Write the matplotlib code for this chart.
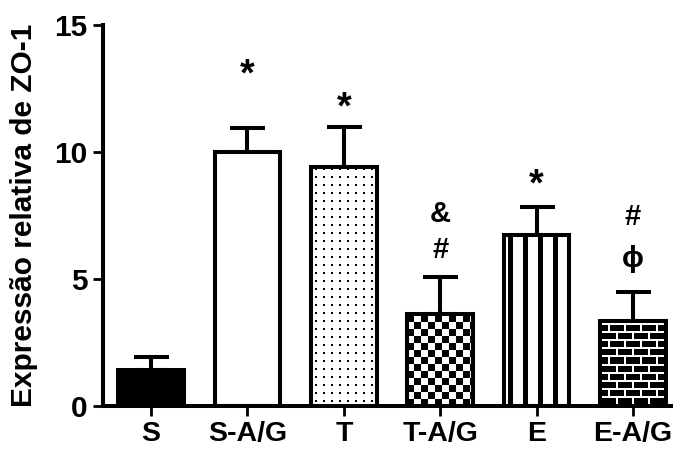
import matplotlib
matplotlib.use('Agg')
import matplotlib.pyplot as plt
import numpy as np

plt.rcParams['font.family'] = ['Liberation Sans', 'DejaVu Sans']
plt.rcParams['font.weight'] = 'bold'

# ZO-1 relative expression, mean and SEM per group
groups = ['S', 'S-A/G', 'T', 'T-A/G', 'E', 'E-A/G']
means = [1.4, 10.0, 9.4, 3.62, 6.75, 3.35]
sems = [0.54, 0.96, 1.6, 1.47, 1.07, 1.14]
fills = ['solid', 'white', 'dots', 'checker', 'stripes', 'bricks']

# significance marks: (group index, symbol, y)
marks = [(1, '*', 13.0), (2, '*', 11.7), (3, '&', 7.55), (3, '#', 6.15),
         (4, '*', 8.7), (5, '#', 7.45), (5, '\u03d5', 5.8)]


def pattern(kind, w, h):
    # pixel-level fill, 1 = white, 0 = black
    yy, xx = np.mgrid[0:h, 0:w]
    if kind == 'dots':
        return 1.0 - (((xx % 8) >= 4) & ((xx % 8) < 6) & ((yy % 8) >= 4) & ((yy % 8) < 6))
    if kind == 'checker':
        return ((xx // 7 + yy // 7) % 2).astype(float)
    if kind == 'stripes':
        return (((xx - 4) % 15) >= 5).astype(float)
    if kind == 'bricks':
        row = yy // 8
        mortar_h = (yy % 8) < 2
        mortar_v = ((xx + (row % 2) * 8) % 16) < 2
        return (mortar_h | mortar_v).astype(float)
    return np.ones((h, w))


fig = plt.figure(figsize=(6.73, 4.49), dpi=100)
ax = fig.add_axes([0.1528, 0.0958, 1 - 0.1528, 0.8486])
ax.set_xlim(-0.5, 5.415)
ax.set_ylim(0, 15)

x = np.arange(len(groups))
bw = 0.68
lw = 2.9

ax.errorbar(x, means, yerr=[np.zeros(len(x)), sems], fmt='none', ecolor='black',
            elinewidth=lw, capsize=12.6, capthick=lw, zorder=1)

bars = ax.bar(x, means, width=bw, facecolor='none', edgecolor='black',
              linewidth=lw, zorder=3)

for bar, kind in zip(bars, fills):
    if kind == 'solid':
        bar.set_facecolor('black')
        continue
    x0, h = bar.get_x(), bar.get_height()
    p0, p1 = ax.transData.transform([(x0, 0), (x0 + bar.get_width(), h)])
    wpx = max(int(round(p1[0] - p0[0])), 1)
    hpx = max(int(round(p1[1] - p0[1])), 1)
    im = ax.imshow(pattern(kind, wpx, hpx), cmap='gray', vmin=0, vmax=1,
                   interpolation='nearest', origin='lower', aspect='auto',
                   extent=(x0, x0 + bar.get_width(), 0, h), zorder=2)
    im.set_clip_path(bar)

ax.set_xlim(-0.5, 5.415)
ax.set_ylim(0, 15)

for i, sym, y in marks:
    size = 27 if sym == '*' else 21
    ax.text(x[i], y, sym, ha='center', va='center', fontsize=size,
            fontweight='bold')

ax.set_xticks(x)
ax.set_xticklabels(groups, fontsize=20.5, fontweight='bold')
ax.set_yticks([0, 5, 10, 15])
ax.set_yticklabels(['0', '5', '10', '15'], fontsize=21.5, fontweight='bold')
ax.tick_params(axis='both', direction='out', length=7, width=2, pad=4, color='black')
ax.set_ylabel('Expressão relativa de ZO-1', fontsize=21.5, fontweight='bold', labelpad=12)

ax.spines['top'].set_visible(False)
ax.spines['right'].set_visible(False)
ax.spines['left'].set_linewidth(lw)
ax.spines['bottom'].set_linewidth(lw)

fig.savefig('out.png', dpi=100)
